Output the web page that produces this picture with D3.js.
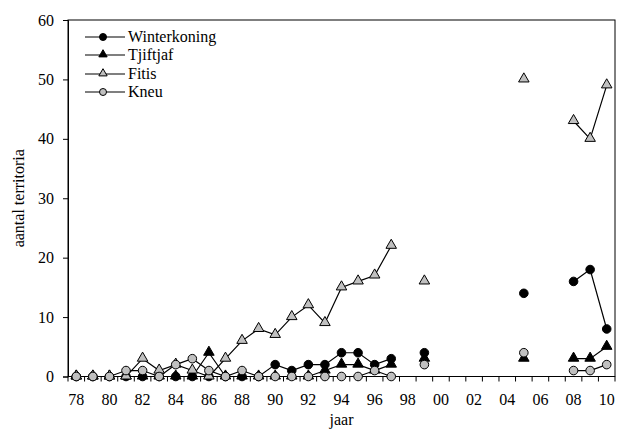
<!DOCTYPE html>
<html><head><meta charset="utf-8">
<script src="https://cdn.jsdelivr.net/npm/d3@7"></script>
<style>html,body{margin:0;padding:0;background:#fff;} svg{display:block;font-family:"Liberation Serif","Times New Roman",serif;}</style>
</head><body>
<svg id="chart" width="619" height="430"></svg>
<script>
const years = [1978,1979,1980,1981,1982,1983,1984,1985,1986,1987,1988,1989,1990,1991,1992,1993,1994,1995,1996,1997,1998,1999,2000,2001,2002,2003,2004,2005,2006,2007,2008,2009,2010];
const tickYears = [1978,1980,1982,1984,1986,1988,1990,1992,1994,1996,1998,2000,2002,2004,2006,2008,2010];
const tickLabels = ["78","80","82","84","86","88","90","92","94","96","98","00","02","04","06","08","10"];
const yTicks = [0,10,20,30,40,50,60];
const winterkoning = [0,0,0,0,0,0,0,0,0,0,0,0,2,1,2,2,4,4,2,3,null,4,null,null,null,null,null,14,null,null,16,18,8];
const tjiftjaf     = [0,0,0,0,0,0,0,0,4,0,0,0,0,0,0,1,2,2,1,2,null,3,null,null,null,null,null,3,null,null,3,3,5];
const fitis        = [0,0,0,0,3,1,2,1,0,3,6,8,7,10,12,9,15,16,17,22,null,16,null,null,null,null,null,50,null,null,43,40,49];
const kneu         = [0,0,0,1,1,0,2,3,1,0,1,0,0,0,0,0,0,0,1,0,null,2,null,null,null,null,null,4,null,null,1,1,2];
const seriesNames = ["Winterkoning","Tjiftjaf","Fitis","Kneu"];

const series = [
  {name: seriesNames[0], values: winterkoning, shape: "circle", fill: "#000"},
  {name: seriesNames[1], values: tjiftjaf, shape: "triangle", fill: "#000"},
  {name: seriesNames[2], values: fitis, shape: "triangle", fill: "#c0c0c0"},
  {name: seriesNames[3], values: kneu, shape: "circle", fill: "#c0c0c0"}
];

const svg = d3.select("#chart");
const L = 68, R = 615, T = 20, B = 376.5;
const x = d3.scaleBand().domain(years).range([L, R]).padding(0);
const bw = x.bandwidth();
const cx = yr => x(yr) + bw / 2;
const y = d3.scaleLinear().domain([0, 60]).range([B, T]);

// frame
svg.append("rect").attr("x", L).attr("y", T).attr("width", R - L).attr("height", B - T)
  .attr("fill", "none").attr("stroke", "#000").attr("stroke-width", 1);

// y axis
const yAxis = svg.append("g").attr("transform", `translate(${L},0)`)
  .call(d3.axisLeft(y).tickValues(yTicks).tickSize(5).tickPadding(9).tickFormat(d3.format("d")));
yAxis.select(".domain").attr("stroke", "#000");
yAxis.selectAll("text").attr("font-size", 16).attr("fill", "#000").attr("font-family", "Liberation Serif");

// x axis: ticks between categories
const xg = svg.append("g");
const edges = years.map(yr => x(yr)).concat([R]);
xg.selectAll("line.tk").data(edges).join("line")
  .attr("x1", d => d).attr("x2", d => d).attr("y1", B).attr("y2", B + 5)
  .attr("stroke", "#000");
xg.selectAll("text").data(tickYears).join("text")
  .attr("x", d => cx(d)).attr("y", B + 28)
  .attr("text-anchor", "middle").attr("font-size", 16).attr("fill", "#000")
  .text((d, i) => tickLabels[i]);

svg.append("text").attr("x", (L + R) / 2).attr("y", 425).attr("text-anchor", "middle")
  .attr("font-size", 16).text("jaar");
svg.append("text").attr("transform", `translate(24,${(T + B) / 2}) rotate(-90)`)
  .attr("text-anchor", "middle").attr("font-size", 16).text("aantal territoria");

const line = d3.line().defined(d => d.v != null).x(d => cx(d.yr)).y(d => y(d.v));
const triSym = d3.symbol().type(d3.symbolTriangle).size(48);
const triSmall = d3.symbol().type(d3.symbolTriangle).size(30);

series.forEach(s => {
  const pts = years.map((yr, i) => ({yr, v: s.values[i]}));
  svg.append("path").datum(pts).attr("d", line).attr("fill", "none").attr("stroke", "#000").attr("stroke-width", 1.2);
});
series.forEach(s => {
  const pts = years.map((yr, i) => ({yr, v: s.values[i]})).filter(d => d.v != null);
  const g = svg.append("g");
  if (s.shape === "circle") {
    g.selectAll("circle").data(pts).join("circle")
      .attr("cx", d => cx(d.yr)).attr("cy", d => y(d.v)).attr("r", 4.3)
      .attr("fill", s.fill).attr("stroke", "#000").attr("stroke-width", 1);
  } else {
    g.selectAll("path").data(pts).join("path").attr("d", triSym)
      .attr("transform", d => `translate(${cx(d.yr)},${y(d.v) - 0.5})`)
      .attr("fill", s.fill).attr("stroke", "#000").attr("stroke-width", 1);
  }
});

// legend
const lg = svg.append("g");
const rows = [37, 55, 74, 92];
series.forEach((s, i) => {
  const yy = rows[i];
  lg.append("line").attr("x1", 85).attr("x2", 125).attr("y1", yy).attr("y2", yy).attr("stroke", "#000").attr("stroke-width", 1.2);
  if (s.shape === "circle") {
    lg.append("circle").attr("cx", 103).attr("cy", yy).attr("r", 3.5).attr("fill", s.fill).attr("stroke", "#000");
  } else {
    lg.append("path").attr("d", triSmall).attr("transform", `translate(103,${yy - 0.5})`).attr("fill", s.fill).attr("stroke", "#000");
  }
  lg.append("text").attr("x", 128).attr("y", yy + 5).attr("font-size", 16).text(s.name);
});
</script>
</body></html>
